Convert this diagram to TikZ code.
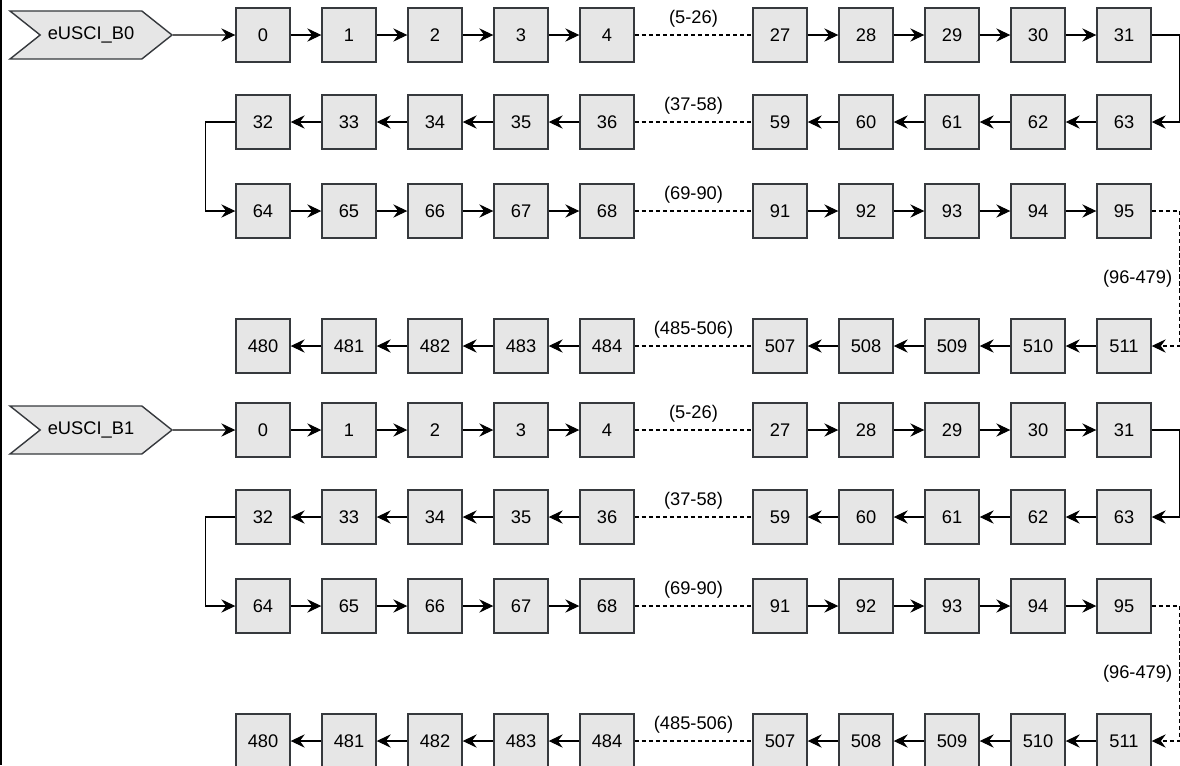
\documentclass[tikz,border=0pt]{standalone}
\usepackage{fontspec}
\setmainfont{Liberation Sans}
\usetikzlibrary{positioning,calc,arrows.meta,shapes.symbols}
\definecolor{BoxGray}{RGB}{230,230,230}
\definecolor{EdgeGray}{RGB}{54,57,61}

\begin{document}
\begin{tikzpicture}[
    x=0.025cm,
    y=-0.025cm,
    font=\fontsize{13}{15}\selectfont,
    box/.style={
        draw=EdgeGray,
        line width=1pt,
        fill=BoxGray,
        minimum width=1.35cm,
        minimum height=1.35cm,
        inner sep=0pt
    },
    port/.style={
        shape=signal,
        signal from=west,
        signal to=east,
        signal pointer angle=77,
        draw=EdgeGray,
        line width=1pt,
        fill=BoxGray,
        minimum width=4.05cm,
        minimum height=1.2cm,
        inner sep=0pt
    },
    arrow/.style={-{Stealth[length=10pt,width=9.5pt,inset=3.5pt]}, line width=0.75pt},
    dots/.style={line width=0.75pt, dash pattern=on 3pt off 2pt},
    skiplabel/.style={inner sep=5pt}
]
\useasboundingbox (0,0) rectangle (1180,765);

% frame edge on the left
\coordinate (frametop) at (1,0);
\coordinate (framebot) at (1,765);
\draw[line width=0.9pt] (frametop) -- (framebot);

\foreach \blk/\dy in {0/0,1/395} {
    \node[port] (p\blk) at (91,35+\dy) {eUSCI\_B\blk};

    % four rows of ten cells each
    \foreach \r/\y/\a/\b in {a/35/0/27,b/122/32/59,c/211/64/91,d/346/480/507} {
        \foreach \i in {0,...,4} {
            \pgfmathtruncatemacro\na{\a+\i}
            \pgfmathtruncatemacro\nb{\b+\i}
            \pgfmathtruncatemacro\j{\i+5}
            \node[box] (n\blk\r\i) at (263+86*\i,\y+\dy) {\na};
            \node[box] (n\blk\r\j) at (780+86*\i,\y+\dy) {\nb};
        }
        \pgfmathtruncatemacro\lo{\a+5}
        \pgfmathtruncatemacro\hi{\b-1}
        \draw[dots] (n\blk\r4) -- node[above, skiplabel] {(\lo-\hi)} (n\blk\r5);
    }

    \foreach \r in {a,c}
        \foreach \i/\j in {0/1,1/2,2/3,3/4,5/6,6/7,7/8,8/9}
            \draw[arrow] (n\blk\r\i) -- (n\blk\r\j);
    \foreach \r in {b,d}
        \foreach \i/\j in {0/1,1/2,2/3,3/4,5/6,6/7,7/8,8/9}
            \draw[arrow] (n\blk\r\j) -- (n\blk\r\i);

    \draw[arrow] (p\blk) -- (n\blk a0);
    \draw[arrow] (n\blk a9.east) -- ++(28,0) |- (n\blk b9.east);
    \draw[arrow] (n\blk b0.west) -- ++(-30,0) |- (n\blk c0.west);
    \draw[arrow, dots] (n\blk c9.east) -- ++(28,0)
        |- node[pos=0.25, left, skiplabel] {(96-479)} (n\blk d9.east);
}

\end{tikzpicture}
\end{document}
